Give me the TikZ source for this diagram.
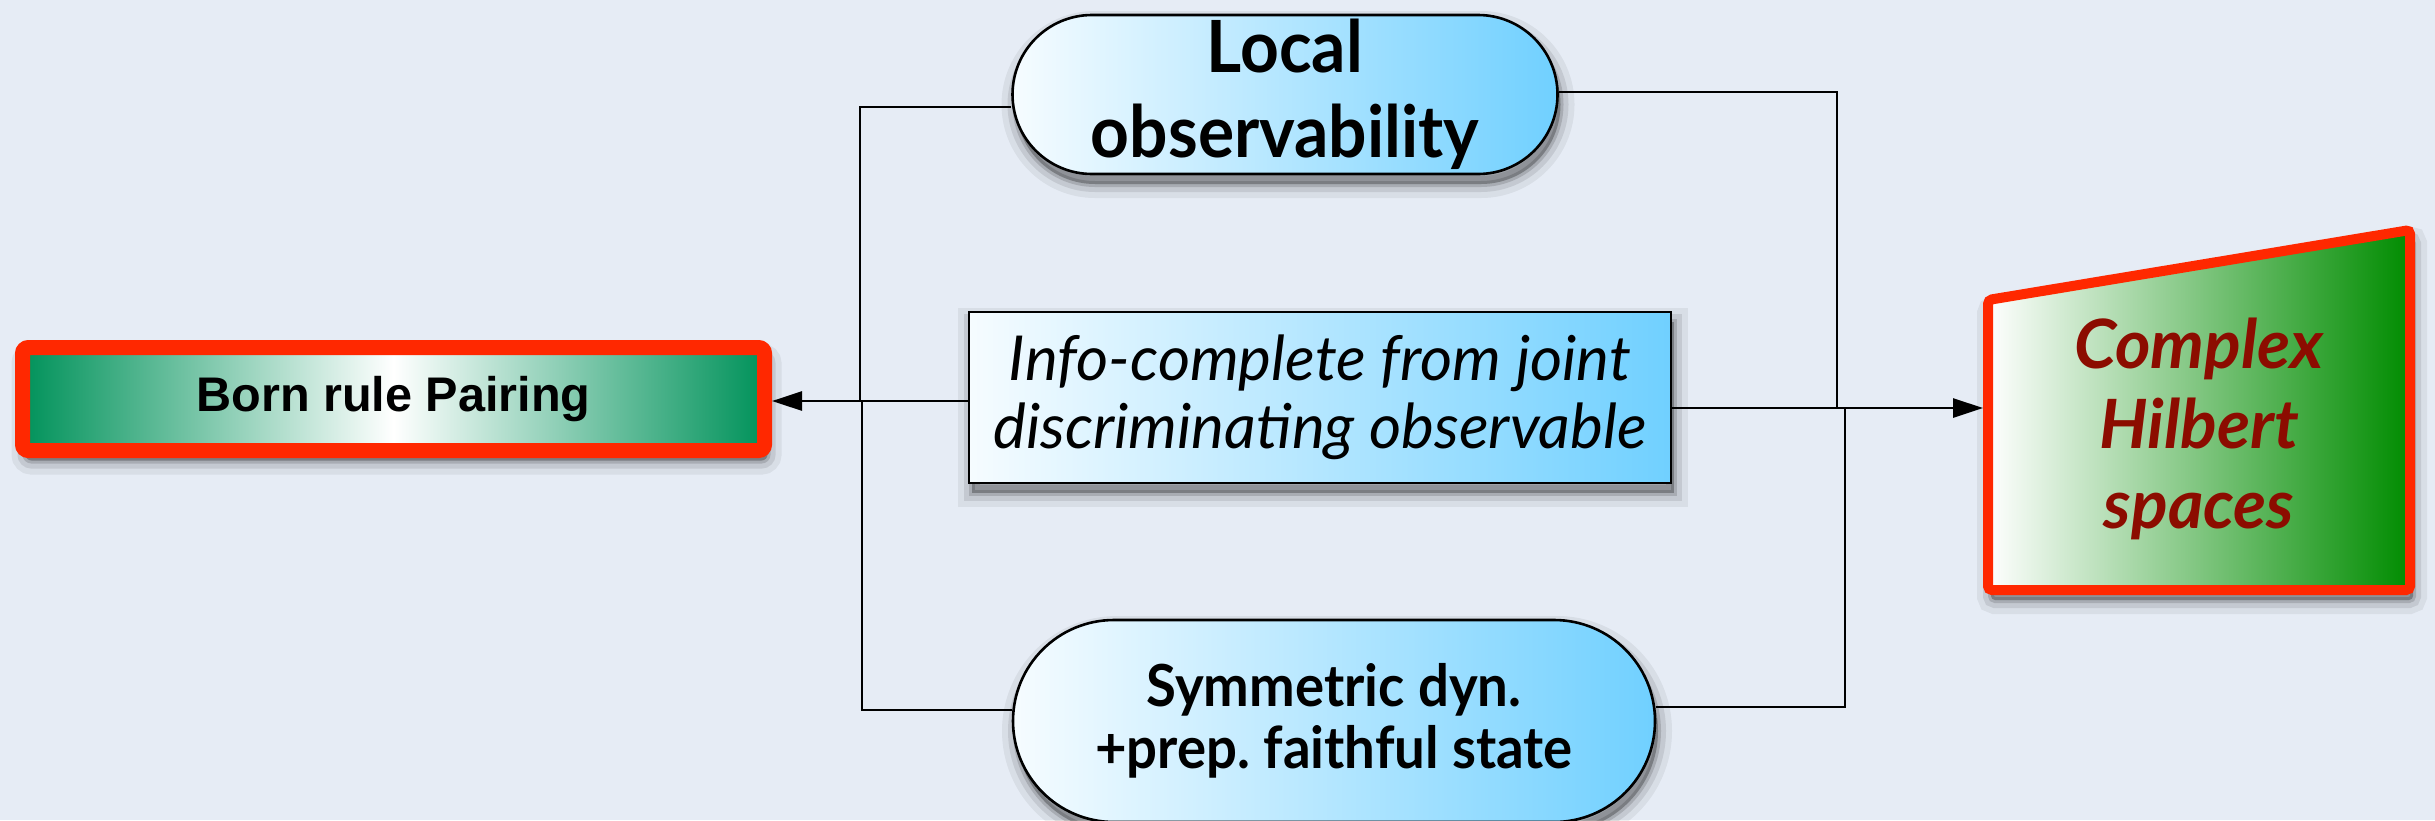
\documentclass[tikz,border=0pt]{standalone}
\usepackage{fontspec}
\setmainfont{Lato}
\newfontfamily\pillfont[FakeStretch=0.94]{Lato}
\newfontfamily\arialfont{Liberation Sans}
\usetikzlibrary{shadows,arrows.meta,shapes.misc}

\definecolor{paperbg}{RGB}{230,236,245}
\definecolor{skyL}{RGB}{246,252,255}
\definecolor{skyR}{RGB}{112,208,255}
\definecolor{bornG}{RGB}{0,146,90}
\definecolor{hilbG}{RGB}{0,140,0}
\definecolor{redline}{RGB}{255,40,0}
\definecolor{darkred}{RGB}{140,12,0}

\pgfdeclarelayer{paper}
\pgfdeclarelayer{wires}
\pgfsetlayers{paper,wires,main}

\begin{document}
\frenchspacing
\begin{tikzpicture}[x=0.5pt,y=-0.5pt,
  wire/.style={line width=1.4pt,draw=black},
  tip/.style={-{Triangle[length=15pt,width=9.5pt]}},
  bluefill/.style={left color=skyL,right color=skyR},
  shade/.style={
    general shadow={fill=black,draw=black,opacity=.06,line width=14pt,
      shadow xshift=1.5pt,shadow yshift=-5pt},
    general shadow={fill=black,draw=black,opacity=.09,line width=8pt,
      shadow xshift=1.5pt,shadow yshift=-5pt},
    general shadow={fill=black,draw=black,opacity=.14,line width=3pt,
      shadow xshift=1.5pt,shadow yshift=-5pt}},
  pill/.style={rounded rectangle,draw=black,line width=1.3pt,bluefill,shade,
      align=center,inner sep=0pt},
  infobox/.style={rectangle,draw=black,line width=1.3pt,bluefill,shade,
      align=center,inner sep=0pt,minimum width=351pt,minimum height=85.5pt},
  bornbox/.style={rectangle,draw=redline,line width=7.5pt,rounded corners=3pt,
      left color=bornG,right color=bornG,middle color=white,shade,
      inner sep=0pt,minimum width=371pt,minimum height=51.5pt},
  goalbox/.style={draw=redline,line width=5pt,rounded corners=2pt,
      left color=white,right color=hilbG,shade}
]
\useasboundingbox (0,0) rectangle (2435,820);
\begin{pgfonlayer}{paper}
  \fill[paperbg] (0,0) rectangle (2435,820);
\end{pgfonlayer}

% source boxes
\node[pill,minimum width=272.5pt,minimum height=79.5pt,
      font=\pillfont\bfseries\fontsize{36}{42.5}\selectfont] (lo) at (1285,94.5)
      {Local\\observability};
\node[infobox,font=\itshape\fontsize{31}{34}\selectfont] (ic) at (1320,397.5)
      {Info-complete from joint\\discriminating observable};
\node[pill,minimum width=321pt,minimum height=101pt,
      font=\pillfont\bfseries\fontsize{29}{31}\selectfont] (sd) at (1334,721)
      {Symmetric dyn.\\+prep. faithful state};

% result boxes
\node[bornbox,font=\arialfont\bfseries\fontsize{24.3}{28}\selectfont] (born) at (393.5,399)
      {Born rule Pairing};
\path[goalbox] (1988,300) -- (2410,230) -- (2410,590) -- (1988,590) -- cycle;
\node[align=center,text=darkred,font=\bfseries\itshape\fontsize{34}{40}\selectfont]
      (chs) at (2199,429) {Complex\\Hilbert\\spaces};
\coordinate (chsin) at (1983,408);

% connectors
\begin{pgfonlayer}{wires}
  \draw[wire] (lo.west |- 0,107) -- (860,107) -- (860,401);
  \draw[wire] (sd.west |- 0,710) -- (862,710) -- (862,401);
  \draw[wire] (lo.east |- 0,92) -- (1837,92) -- (1837,408);
  \draw[wire] (sd.east |- 0,707) -- (1845,707) -- (1845,408);
\end{pgfonlayer}
\draw[wire,tip] (ic.west |- 0,401) -- (born.east |- 0,401);
\draw[wire,tip] (ic.east |- 0,408) -- (chsin);
\end{tikzpicture}
\end{document}
